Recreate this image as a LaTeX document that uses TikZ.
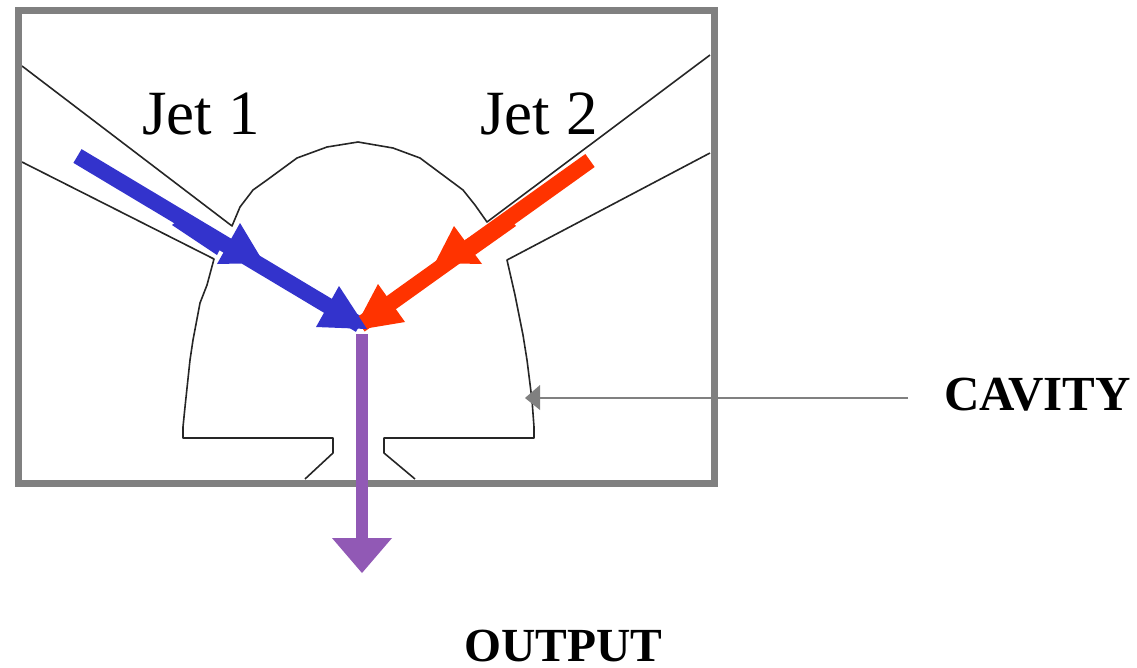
\documentclass[tikz,border=0pt]{standalone}
\usepackage{fontspec}
\setmainfont{Liberation Serif}
\definecolor{framegray}{HTML}{808080}
\definecolor{jetblue}{HTML}{3333CC}
\definecolor{jetred}{HTML}{FF3300}
\definecolor{outpurple}{HTML}{9159B5}
\tikzset{
  outline/.style={draw=black!85,line width=1.6pt,line join=round},
  jetline/.style={line width=16pt},
  biglabel/.style={font=\fontsize{63}{63}\selectfont,inner sep=0pt,anchor=base},
  cavlabel/.style={font=\fontsize{49}{49}\selectfont\bfseries,inner sep=0pt,anchor=base},
  outlabel/.style={font=\fontsize{47.5}{47.5}\selectfont\bfseries,inner sep=0pt,anchor=base}
}
\begin{document}
\begin{tikzpicture}[x=1pt,y=-1pt]
\useasboundingbox (0,0) rectangle (1137,667);
% cavity outline
\draw[outline] (22,66) -- (232,226) -- (240,207) -- (253,190) -- (267,180) -- (297,158) -- (327,147) -- (358,142) -- (393,148) -- (420,158) -- (463,190) -- (475,205) -- (487,222) -- (710,55);
\draw[outline] (22,162) -- (214,259) -- (207,285) -- (200,303) -- (193,340) -- (190,360) -- (185,407) -- (183,427) -- (183,438) -- (333,438) -- (333,453) -- (305,479);
\draw[outline] (415,479) -- (384,453) -- (384,438) -- (534,438) -- (534,427) -- (532,400) -- (527,360) -- (523,335) -- (515,295) -- (507,260) -- (710,153);
% frame
\draw[framegray,line width=7pt,line join=miter] (18,10) rectangle (714,483.5);
% coordinates
\coordinate (blueStart) at (77.5,156);
\coordinate (redStart) at (590,160.5);
\coordinate (meet) at (360,325);
\coordinate (outStart) at (362,334);
\coordinate (outEnd) at (362,540);
\coordinate (cavStart) at (908,397.5);
\coordinate (cavEnd) at (535,397.5);
% blue jet
\draw[jetblue,jetline] (blueStart) -- (meet);
\fill[jetblue] (172,225) -- (217,255) -- (225,240) -- (185,215) -- cycle;
\fill[jetblue] (240,223) -- (217,264) -- (264,263) -- cycle;
% red jet
\draw[jetred,jetline] (redStart) -- (meet);
\fill[jetred] (516,226) -- (475,255) -- (465,240) -- (505,215) -- cycle;
\fill[jetred] (454,226) -- (435,263) -- (482,264) -- cycle;
\fill[jetred] (378,284) -- (359,320) -- (366,328.5) -- (405,322) -- cycle;
\fill[jetblue] (339,286) -- (316,327) -- (367,329) -- cycle;
% output
\draw[outpurple,line width=12pt] (outStart) -- (outEnd);
\fill[outpurple] (332,538) -- (392,538) -- (362,573) -- cycle;
% cavity pointer
\draw[framegray,line width=2pt] (cavStart) -- (cavEnd);
\fill[framegray] (525,398) -- (540,385) -- (540,410) -- cycle;
% labels
\node[biglabel] (jetone) at (201,134) {Jet 1};
\node[biglabel] (jettwo) at (539,134) {Jet 2};
\node[cavlabel] (cavity) at (1037.5,410) {CAVITY};
\node[outlabel] (output) at (563.5,661) {OUTPUT};
\end{tikzpicture}
\end{document}
